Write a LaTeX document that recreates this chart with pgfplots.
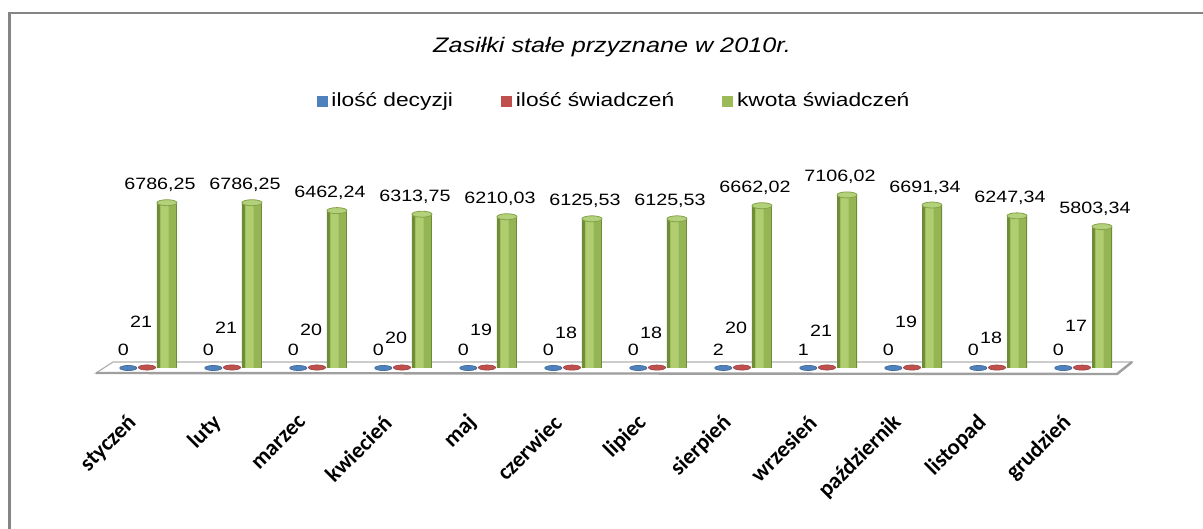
\documentclass[border=0pt]{standalone}
\usepackage{pgfplots}
\usepackage{pgfplotstable}
\pgfplotsset{compat=1.18}
\usepackage{fontspec}
\setmainfont{Liberation Sans}[FakeStretch=1.2]
\newfontfamily\tickfont{Carlito}
\definecolor{cblue}{HTML}{4F81BD}
\definecolor{cred}{HTML}{C0504D}
\definecolor{gmid}{HTML}{9BBB59}
\definecolor{gbase}{HTML}{6E8B35}
\definecolor{gmid2}{HTML}{95B555}
\definecolor{glight}{HTML}{B0CE70}
\definecolor{gtop}{HTML}{B3D07A}
\definecolor{gedge}{HTML}{84A24A}
\definecolor{framegray}{HTML}{858585}

\pgfplotstableread{
x xb xg b r g gl dy
0 -0.22 0.235 0 21 6786.25 6786,25 20
1 0.78 1.235 0 21 6786.25 6786,25 17
2 1.78 2.235 0 20 6462.24 6462,24 16
3 2.78 3.235 0 20 6313.75 6313,75 12
4 3.78 4.235 0 19 6210.03 6210,03 16
5 4.78 5.235 0 18 6125.53 6125,53 14.5
6 5.78 6.235 0 18 6125.53 6125,53 14.5
7 6.78 7.235 2 20 6662.02 6662,02 17
8 7.78 8.235 1 21 7106.02 7106,02 15.5
9 8.78 9.235 0 19 6691.34 6691,34 20
10 9.78 10.235 0 18 6247.34 6247,34 12
11 10.78 11.235 0 17 5803.34 5803,34 18
}\data

\begin{document}
\begin{tikzpicture}
\useasboundingbox (-48pt,-80.5pt) rectangle (553.5pt,184pt);
% outer frame (only left and top visible)
\draw[line width=1.3pt, color=framegray] (-43.25pt,-90pt) -- (-43.25pt,177.5pt) -- (560pt,177.5pt);
% 3D floor
\filldraw[fill=white, draw=gray!60, line width=0.6pt] (0pt,-2.5pt) -- (510.5pt,-3pt) -- (518pt,3pt) -- (8.5pt,3pt) -- cycle;
\draw[gray!75, line width=1.2pt] (0pt,-2.5pt) -- (510.5pt,-3pt) -- (518pt,3pt);
% title
\node[font=\itshape\fontsize{10.5}{12}\selectfont] at (258pt,160.5pt) {Zasiłki stałe przyznane w 2010r.};
\begin{axis}[
  at={(0pt,0pt)}, anchor=south west,
  scale only axis, width=518pt, height=109pt,
  xmin=-0.6, xmax=11.588, ymin=0, ymax=8950,
  axis line style={draw=none}, major tick length=0pt,
  ytick=\empty, xtick={0,...,11},
  xticklabels={styczeń, luty, marzec, kwiecień, maj, czerwiec, lipiec, sierpień, wrzesień, październik, listopad, grudzień},
  xticklabel style={xshift=-7pt, yshift=-25.5pt, rotate=45, anchor=east, inner sep=0pt, font=\tickfont\bfseries\fontsize{11.3}{13}\selectfont},
  clip=false,
  legend columns=3,
  legend style={at={(0.501,1.225)}, anchor=center, draw=none, fill=none,
    font=\fontsize{9.5}{11}\selectfont,
    /tikz/every even column/.append style={column sep=22pt}},
  legend cell align=left,
]
\addlegendimage{legend image code/.code={\fill[cblue] (0pt,-2.5pt) rectangle (5pt,2.5pt);}}
\addlegendentry{ilość decyzji}
\addlegendimage{legend image code/.code={\fill[cred] (0pt,-2.5pt) rectangle (5pt,2.5pt);}}
\addlegendentry{ilość świadczeń}
\addlegendimage{legend image code/.code={\fill[gmid] (0pt,-2.5pt) rectangle (5pt,2.5pt);}}
\addlegendentry{kwota świadczeń}

% green cylinders: dark body, mid tone, light highlight
\addplot[ybar, bar width=10pt, bar shift=0pt, draw=none, fill=gbase, forget plot]
  table[x=xg, y=g] {\data};
\addplot[ybar, bar width=8pt, bar shift=0.4pt, draw=none, fill=gmid2, forget plot]
  table[x=xg, y=g] {\data};
\addplot[ybar, bar width=4pt, bar shift=-1.2pt, draw=none, fill=glight, forget plot]
  table[x=xg, y=g] {\data};
% green tops with labels
\addplot[only marks, mark=*, mark size=5pt, mark options={yscale=0.3, fill=gtop, draw=gedge, line width=0.4pt}, forget plot,
  point meta=explicit symbolic,
  nodes near coords,
  every node near coord/.append style={font=\fontsize{8.2}{10}\selectfont, inner sep=0pt, anchor=base, yshift=6.5pt, xshift=-3.5pt}]
  table[x=xg, y=g, meta=gl] {\data};
% red discs with labels
\addplot[only marks, mark=*, mark size=4.3pt, mark options={yscale=0.3, fill=cred, draw=cred!80!black, line width=0.3pt}, forget plot,
  point meta=explicit symbolic,
  visualization depends on={\thisrow{dy} \as \labdy},
  nodes near coords,
  every node near coord/.append style={font=\fontsize{8.2}{10}\selectfont, inner sep=0pt, anchor=base, yshift=\labdy pt, xshift=-3pt}]
  table[x=x, y=r, meta=r] {\data};
% blue discs with labels
\addplot[only marks, mark=*, mark size=4.3pt, mark options={yscale=0.3, fill=cblue, draw=cblue!80!black, line width=0.3pt}, forget plot,
  point meta=explicit symbolic,
  nodes near coords,
  every node near coord/.append style={font=\fontsize{8.2}{10}\selectfont, inner sep=0pt, anchor=base, yshift=6pt, xshift=-2.5pt}]
  table[x=xb, y=b, meta=b] {\data};
\end{axis}
\end{tikzpicture}
\end{document}
